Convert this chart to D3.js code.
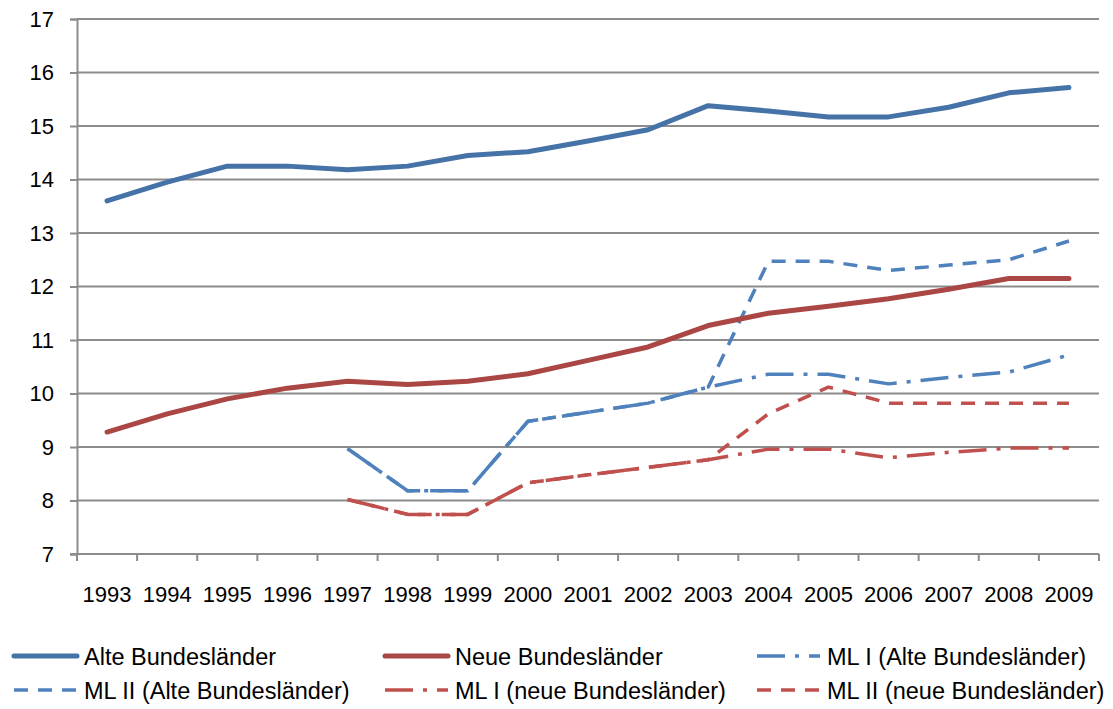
<!DOCTYPE html>
<html>
<head>
<meta charset="utf-8">
<script src="https://cdn.jsdelivr.net/npm/d3@7"></script>
<style>
    body { margin: 0; background: #fff; }
    text { font-family: "Liberation Sans", Arial, sans-serif; fill: #000; }
</style>
</head>
<body>
<div id="container"></div>
<script>
// Years on the x axis
const years = [1993, 1994, 1995, 1996, 1997, 1998, 1999, 2000, 2001, 2002, 2003, 2004, 2005, 2006, 2007, 2008, 2009];

// Series values (null = no value for that year)
const alteBL = [13.6, 13.95, 14.25, 14.25, 14.18, 14.25, 14.45, 14.52, 14.72, 14.93, 15.38, 15.28, 15.17, 15.17, 15.35, 15.62, 15.72];
const neueBL = [9.28, 9.62, 9.9, 10.1, 10.23, 10.17, 10.23, 10.37, 10.62, 10.87, 11.27, 11.5, 11.63, 11.77, 11.95, 12.15, 12.15];
const ml1Alte = [null, null, null, null, 8.97, 8.18, 8.18, 9.48, 9.65, 9.82, 10.12, 10.36, 10.36, 10.18, 10.3, 10.4, 10.72];
const ml2Alte = [null, null, null, null, 8.97, 8.18, 8.18, 9.48, 9.65, 9.82, 10.12, 12.47, 12.47, 12.3, 12.4, 12.5, 12.85];
const ml1Neue = [null, null, null, null, 8.02, 7.74, 7.74, 8.33, 8.48, 8.62, 8.76, 8.96, 8.96, 8.8, 8.9, 8.98, 8.98];
const ml2Neue = [null, null, null, null, 8.02, 7.74, 7.74, 8.33, 8.48, 8.62, 8.76, 9.62, 10.12, 9.82, 9.82, 9.82, 9.82];

const yTicks = [7, 8, 9, 10, 11, 12, 13, 14, 15, 16, 17];

const series = [
    { name: "ML II (neue Bundesländer)", values: ml2Neue, color: "#C0504D", width: 3.5, dash: "14,10" },
    { name: "ML I (neue Bundesländer)", values: ml1Neue, color: "#C0504D", width: 3.5, dash: "28,10,4,10" },
    { name: "ML II (Alte Bundesländer)", values: ml2Alte, color: "#4F81BD", width: 3.5, dash: "14,10" },
    { name: "ML I (Alte Bundesländer)", values: ml1Alte, color: "#4F81BD", width: 3.5, dash: "28,10,4,10" },
    { name: "Neue Bundesländer", values: neueBL, color: "#AA4643", width: 5, dash: null },
    { name: "Alte Bundesländer", values: alteBL, color: "#4572A7", width: 5, dash: null }
];

// legend order as in the picture (row by row)
const legendOrder = [
    "Alte Bundesländer", "Neue Bundesländer", "ML I (Alte Bundesländer)",
    "ML II (Alte Bundesländer)", "ML I (neue Bundesländer)", "ML II (neue Bundesländer)"
];

const width = 1113, height = 709;
const plot = { left: 77, right: 1099, top: 19, bottom: 554 };

const svg = d3.select("#container").append("svg")
    .attr("width", width)
    .attr("height", height);

const x = d3.scaleBand()
    .domain(years)
    .range([plot.left, plot.right])
    .padding(0);

const y = d3.scaleLinear()
    .domain([7, 17])
    .range([plot.bottom, plot.top]);

// gridlines
svg.append("g")
    .selectAll("line")
    .data(yTicks.filter(d => d !== 7))
    .enter().append("line")
    .attr("x1", plot.left)
    .attr("x2", plot.right)
    .attr("y1", d => y(d))
    .attr("y2", d => y(d))
    .attr("stroke", "#8c8c8c")
    .attr("stroke-width", 2);

// y axis
const yAxis = svg.append("g")
    .attr("transform", `translate(${plot.left},0)`)
    .call(d3.axisLeft(y).tickValues(yTicks).tickSize(7).tickPadding(16).tickFormat(d3.format("d")));
yAxis.select(".domain").attr("stroke", "#8c8c8c").attr("stroke-width", 2);
yAxis.selectAll(".tick line").attr("stroke", "#8c8c8c").attr("stroke-width", 2);
yAxis.selectAll(".tick text").style("font-size", "22px").style("font-family", "Liberation Sans, Arial, sans-serif");

// x axis: ticks at the category boundaries
const xAxis = svg.append("g")
    .attr("transform", `translate(0,${plot.bottom})`);
xAxis.append("line")
    .attr("x1", plot.left - 7).attr("x2", plot.right)
    .attr("stroke", "#8c8c8c").attr("stroke-width", 2);
xAxis.selectAll(".xt")
    .data(years.concat(["end"]))
    .enter().append("line")
    .attr("class", "xt")
    .attr("x1", d => d === "end" ? plot.right : x(d))
    .attr("x2", d => d === "end" ? plot.right : x(d))
    .attr("y1", 0).attr("y2", 7)
    .attr("stroke", "#8c8c8c").attr("stroke-width", 2);
xAxis.selectAll(".xl")
    .data(years)
    .enter().append("text")
    .attr("class", "xl")
    .attr("x", d => x(d) + x.bandwidth() / 2)
    .attr("y", 48)
    .attr("text-anchor", "middle")
    .style("font-size", "22px")
    .text(d => d);

// lines
const line = d3.line()
    .defined(d => d.v !== null)
    .x(d => x(d.year) + x.bandwidth() / 2)
    .y(d => y(d.v));

svg.append("g")
    .selectAll("path")
    .data(series)
    .enter().append("path")
    .attr("d", s => line(s.values.map((v, i) => ({ year: years[i], v: v }))))
    .attr("fill", "none")
    .attr("stroke", s => s.color)
    .attr("stroke-width", s => s.width)
    .attr("stroke-dasharray", s => s.dash)
    .attr("stroke-linejoin", "round")
    .attr("stroke-linecap", s => s.dash ? "butt" : "round");

// legend
const legendCols = [14, 385, 757];
const legendRows = [656, 690];
const legend = svg.append("g")
    .selectAll("g")
    .data(legendOrder.map(n => series.find(s => s.name === n)))
    .enter().append("g")
    .attr("transform", (d, i) => `translate(${legendCols[i % 3]},${legendRows[Math.floor(i / 3)]})`);

legend.append("line")
    .attr("x1", 0).attr("x2", 63)
    .attr("stroke", d => d.color)
    .attr("stroke-width", d => d.width)
    .attr("stroke-dasharray", d => d.dash)
    .attr("stroke-linecap", d => d.dash ? "butt" : "round");

legend.append("text")
    .attr("x", 70)
    .attr("y", 9)
    .style("font-size", "23.5px")
    .text(d => d.name);
</script>
</body>
</html>
